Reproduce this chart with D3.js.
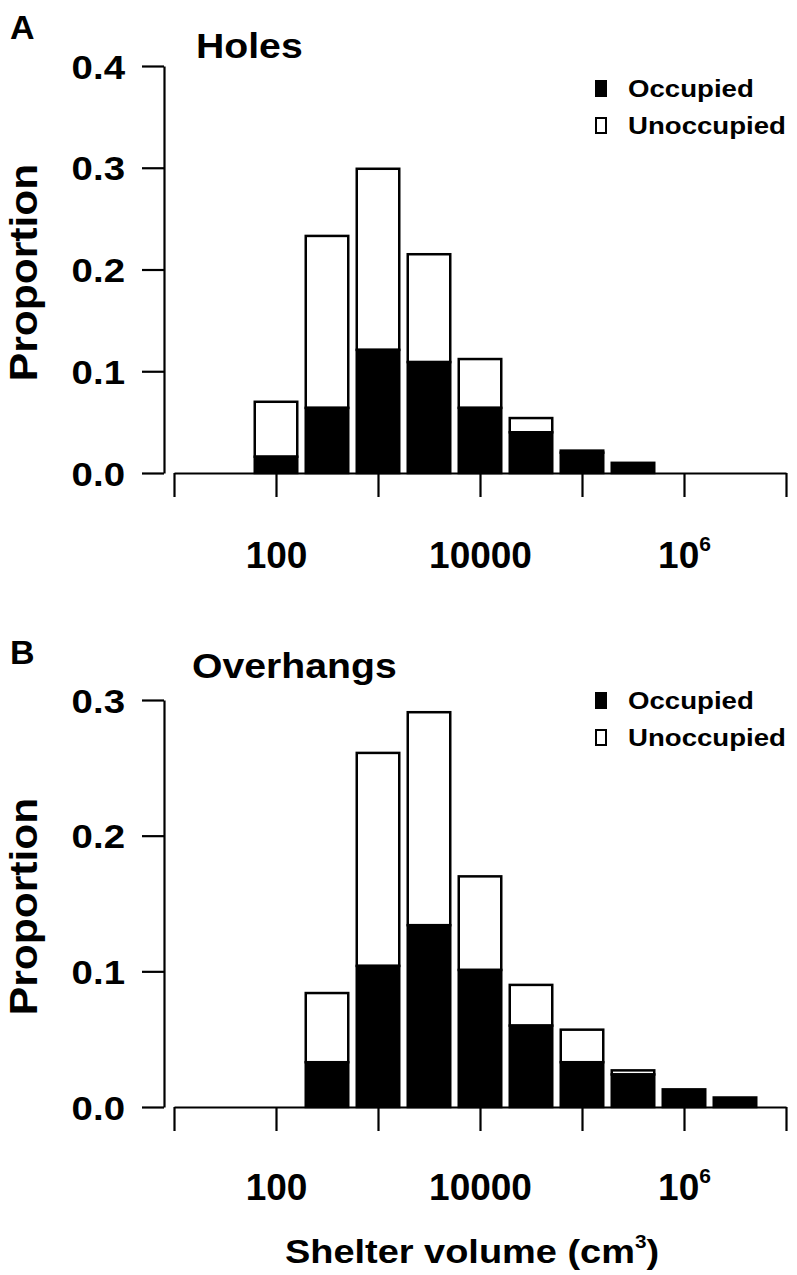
<!DOCTYPE html>
<html>
<head>
<meta charset="utf-8">
<script src="https://cdn.jsdelivr.net/npm/d3@7"></script>
<style>
  body { margin: 0; background: #fff; }
  text { font-family: "Liberation Sans", Arial, Helvetica, sans-serif; font-weight: bold; fill: #000; }
</style>
</head>
<body>
<svg id="chart" width="797" height="1275"></svg>
<script>
// ---------------- data ----------------
// bin centres (shelter volume, cm^3), half-decade bins
const holesBins = [100, 316.2, 1000, 3162, 10000, 31623, 100000, 316228];
const holesOccupied   = [0.016, 0.064, 0.121, 0.109, 0.064, 0.040, 0.020, 0.010];
const holesUnoccupied = [0.054, 0.169, 0.178, 0.106, 0.048, 0.014, 0.002, 0.000];

const overhangsBins = [316.2, 1000, 3162, 10000, 31623, 100000, 316228, 1000000, 3162278];
const overhangsOccupied   = [0.033, 0.104, 0.134, 0.101, 0.060, 0.033, 0.024, 0.013, 0.007];
const overhangsUnoccupied = [0.051, 0.157, 0.157, 0.069, 0.030, 0.024, 0.003, 0.000, 0.000];

const xTickValues = [10, 100, 1000, 10000, 100000, 1000000, 10000000];
const xTickLabels = ["", "100", "", "10000", "", "10^6", ""];
const holesYTicks = [0, 0.1, 0.2, 0.3, 0.4];
const overhangsYTicks = [0, 0.1, 0.2, 0.3];
const legendLabels = ["Occupied", "Unoccupied"];
const seriesColors = ["#000", "#fff"];

// ---------------- drawing ----------------
const svg = d3.select("#chart");

function sText(parent, x, y, str, size, sx, anchor, rot) {
  const t = parent.append("text")
    .attr("transform", `translate(${x},${y}) rotate(${rot || 0}) scale(${sx},1)`)
    .attr("font-size", size)
    .attr("text-anchor", anchor || "start");
  if (str !== null) t.text(str);
  return t;
}

function panel(cfg) {
  const g = svg.append("g");
  const x = d3.scaleLog().domain([10, 1e7]).range([174, 786]);
  const y = d3.scaleLinear().domain([0, cfg.yMax]).range([cfg.y0, cfg.yTop]);
  const half = 0.5 / 1.2 / 2; // bar half-width in log10 units (space = 0.2)
  const f = Math.pow(10, half);

  const data = cfg.bins.map((b, i) => ({ b, occ: cfg.occ[i], un: cfg.un[i] }));

  // unoccupied (stacked on top)
  g.selectAll("rect.un").data(data.filter(d => d.un > 0)).join("rect")
    .attr("class", "un")
    .attr("x", d => x(d.b / f))
    .attr("width", d => x(d.b * f) - x(d.b / f))
    .attr("y", d => y(d.occ + d.un))
    .attr("height", d => y(d.occ) - y(d.occ + d.un))
    .attr("fill", seriesColors[1]).attr("stroke", "#000").attr("stroke-width", 2.5);

  // occupied
  g.selectAll("rect.occ").data(data).join("rect")
    .attr("class", "occ")
    .attr("x", d => x(d.b / f))
    .attr("width", d => x(d.b * f) - x(d.b / f))
    .attr("y", d => y(d.occ))
    .attr("height", d => y(0) - y(d.occ))
    .attr("fill", seriesColors[0]).attr("stroke", "#000").attr("stroke-width", 2.5);

  // y axis
  const ya = g.append("g").attr("transform", "translate(164,0)")
    .call(d3.axisLeft(y).tickValues(cfg.yTicks).tickSize(22).tickSizeOuter(0)
      .tickFormat(d3.format(".1f")));
  ya.select(".domain").attr("stroke-width", 2.2);
  ya.selectAll(".tick line").attr("stroke-width", 2.2);
  ya.selectAll(".tick text")
    .attr("x", null).attr("dy", null)
    .attr("font-size", 34).attr("font-family", null)
    .attr("text-anchor", "end")
    .attr("transform", "translate(-39,12) scale(1.13,1)");

  // x axis
  const xa = g.append("g").attr("transform", `translate(0,${cfg.y0})`)
    .call(d3.axisBottom(x).tickValues(xTickValues).tickSize(24).tickSizeOuter(0)
      .tickFormat((d, i) => xTickLabels[i]));
  xa.select(".domain").attr("stroke-width", 2.2);
  xa.selectAll(".tick line").attr("stroke-width", 2.2);
  xa.selectAll(".tick text")
    .attr("y", null).attr("dy", null)
    .attr("font-size", 37).attr("font-family", null)
    .attr("transform", `translate(0,${cfg.xLabelOffset}) scale(1.0,1)`)
    .each(function (d, i) {
      const lab = xTickLabels[i];
      if (lab.indexOf("^") >= 0) {
        const [base, exp] = lab.split("^");
        const t = d3.select(this).text(null);
        t.append("tspan").text(base);
        t.append("tspan").attr("font-size", 21).attr("dy", -17).text(exp);
      }
    });

  // axis title (y)
  sText(g, 37, (cfg.y0 + cfg.yTop) / 2 + 3, "Proportion", 38, 1.12, "middle", -90);

  // panel letter and title
  sText(g, 10, cfg.letterY, cfg.letter, 34, 1.0, "start");
  sText(g, cfg.titleX, cfg.titleY, cfg.title, 35, 1.12, "start");

  // legend
  legendLabels.forEach((lab, i) => {
    const ly = cfg.legendY + i * 37;
    g.append("rect").attr("x", 596).attr("y", ly - 16).attr("width", 10).attr("height", 15)
      .attr("fill", seriesColors[i]).attr("stroke", "#000").attr("stroke-width", 2);
    sText(g, 628, ly, lab, 24, 1.15, "start");
  });
}

panel({
  letter: "A", letterY: 39, title: "Holes", titleX: 196, titleY: 58,
  bins: holesBins, occ: holesOccupied, un: holesUnoccupied,
  yMax: 0.4, yTicks: holesYTicks, y0: 473, yTop: 66, xLabelOffset: 95,
  legendY: 97
});

panel({
  letter: "B", letterY: 664, title: "Overhangs", titleX: 192, titleY: 678,
  bins: overhangsBins, occ: overhangsOccupied, un: overhangsUnoccupied,
  yMax: 0.3, yTicks: overhangsYTicks, y0: 1107, yTop: 700, xLabelOffset: 93,
  legendY: 709
});

// x-axis title
const xt = sText(svg, 472, 1263, null, 33, 1.15, "middle");
xt.append("tspan").text("Shelter volume (cm");
xt.append("tspan").attr("font-size", 18).attr("dy", -15).text("3");
xt.append("tspan").attr("dy", 15).text(")");
</script>
</body>
</html>
